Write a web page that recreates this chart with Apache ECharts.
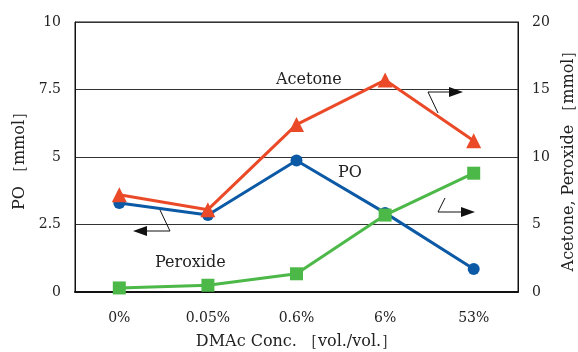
<!DOCTYPE html>
<html>
<head>
<meta charset="utf-8">
<script src="https://cdn.jsdelivr.net/npm/echarts@6/dist/echarts.min.js"></script>
<style>
  html, body { margin: 0; padding: 0; background: #fff; }
  #chart { width: 578px; height: 352px; }
</style>
</head>
<body>
<div id="chart"></div>
<script>
// data
const categories = ['0%', '0.05%', '0.6%', '6%', '53%']
const poValues = [3.3, 2.85, 4.87, 2.93, 0.85]          // left axis
const acetoneValues = [7.2, 6.1, 12.4, 15.7, 11.2]     // right axis
const peroxideValues = [0.3, 0.5, 1.35, 5.7, 8.8]      // right axis

const font = 'DejaVu Serif'
const txt = '#222'

const chart = echarts.init(document.getElementById('chart'))

// little annotation arrows (polyline + arrowhead), pixel coords
function arrow(points, tip, dir) {
  const [x, y] = tip
  const head = dir === 'left'
    ? [[x, y], [x + 14, y - 5], [x + 14, y + 5]]
    : [[x, y], [x - 14, y - 5], [x - 14, y + 5]]
  return [
    { type: 'polyline', shape: { points }, style: { stroke: '#111', lineWidth: 1, fill: null }, z: 10 },
    { type: 'polygon', shape: { points: head }, style: { fill: '#111' }, z: 10 }
  ]
}

chart.setOption({
  animation: false,
  textStyle: { fontFamily: font },
  grid: {
    left: 75, right: 60, top: 22, bottom: 60,
    outerBoundsMode: 'none',
    show: true, borderColor: '#111', borderWidth: 1
  },
  xAxis: {
    type: 'category',
    data: categories,
    boundaryGap: true,
    name: 'DMAc Conc. ［vol./vol.］',
    nameLocation: 'middle',
    nameGap: 42,
    nameTextStyle: { fontFamily: font, fontSize: 16, color: txt },
    axisLine: { lineStyle: { color: '#111', width: 2 } },
    axisTick: { inside: true, length: 5, lineStyle: { color: '#111' } },
    axisLabel: { fontFamily: font, fontSize: 14, color: txt, margin: 19 }
  },
  yAxis: [{
    type: 'value',
    min: 0, max: 10, interval: 2.5,
    name: 'PO ［mmol］',
    nameLocation: 'middle',
    nameGap: 45,
    nameRotate: 90,
    nameTextStyle: { fontFamily: font, fontSize: 16, color: txt },
    axisLine: { show: true, lineStyle: { color: '#111' } },
    axisTick: { show: false },
    axisLabel: { fontFamily: font, fontSize: 14, color: txt, margin: 14 },
    splitLine: { lineStyle: { color: '#333', width: 1 } }
  }, {
    type: 'value',
    min: 0, max: 20, interval: 5,
    name: 'Acetone, Peroxide ［mmol］',
    nameLocation: 'middle',
    nameGap: 37,
    nameRotate: 90,
    nameTextStyle: { fontFamily: font, fontSize: 16, color: txt },
    axisLine: { show: true, lineStyle: { color: '#111' } },
    axisTick: { show: false },
    axisLabel: { fontFamily: font, fontSize: 14, color: txt, margin: 14 },
    splitLine: { show: false }
  }],
  series: [{
    name: 'Acetone',
    type: 'line',
    yAxisIndex: 1,
    data: acetoneValues,
    symbol: 'triangle',
    symbolSize: 15,
    lineStyle: { color: '#ea4a27', width: 3 },
    itemStyle: { color: '#ea4a27' },
    z: 3
  }, {
    name: 'PO',
    type: 'line',
    yAxisIndex: 0,
    data: poValues,
    symbol: 'circle',
    symbolSize: 12,
    lineStyle: { color: '#0c5aa6', width: 3 },
    itemStyle: { color: '#0c5aa6' },
    z: 2
  }, {
    name: 'Peroxide',
    type: 'line',
    yAxisIndex: 1,
    data: peroxideValues,
    symbol: 'rect',
    symbolSize: 13,
    lineStyle: { color: '#4cb848', width: 3 },
    itemStyle: { color: '#4cb848' },
    z: 4
  }],
  graphic: [
    { type: 'text', left: 276, top: 72, style: { text: 'Acetone', font: '16px "DejaVu Serif"', fill: txt } },
    { type: 'text', left: 338, top: 165, style: { text: 'PO', font: '16px "DejaVu Serif"', fill: txt } },
    { type: 'text', left: 155, top: 255, style: { text: 'Peroxide', font: '16px "DejaVu Serif"', fill: txt } },
    ...arrow([[160, 210], [170, 231], [140, 231]], [133, 231], 'left'),
    ...arrow([[438, 113], [428, 92], [456, 92]], [463, 92], 'right'),
    ...arrow([[445, 198], [438, 212], [468, 212]], [475, 212], 'right')
  ]
})
</script>
</body>
</html>
